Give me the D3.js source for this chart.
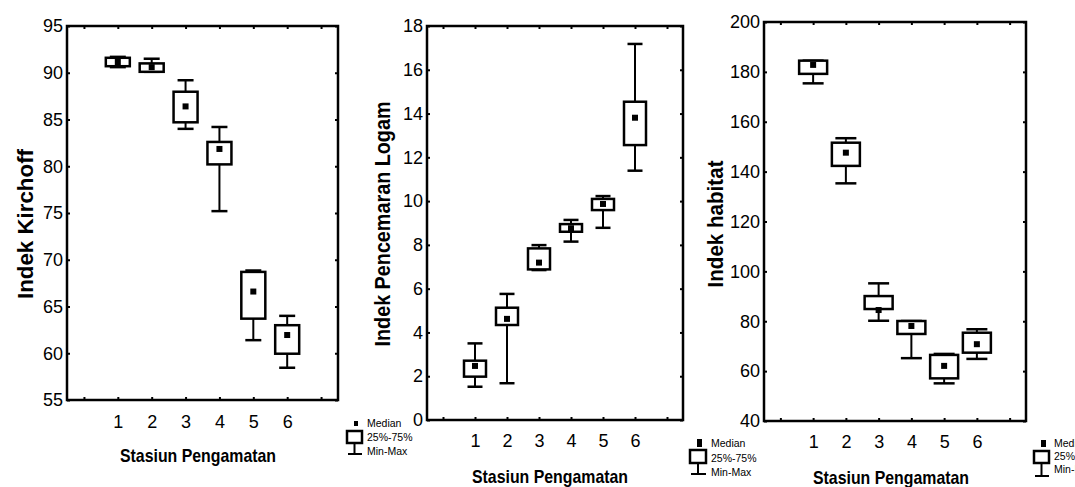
<!DOCTYPE html>
<html><head><meta charset="utf-8">
<script src="https://cdn.jsdelivr.net/npm/d3@7"></script>
<style>body{margin:0;background:#fff}svg{display:block}</style>
</head><body>
<svg id="c" width="1075" height="487"></svg>
<script>
// ---------- data ----------
const stations = [1, 2, 3, 4, 5, 6];
const xTickPositions = [0, 1, 2, 3, 4, 5, 6, 7];
const xTitle = "Stasiun Pengamatan";
const legendLabels = ["Median", "25%-75%", "Min-Max"];

// Indek Kirchoff
const kirMin = [90.6, 90.1, 84.0, 75.2, 61.4, 58.45];
const kirQ1  = [90.7, 90.1, 84.7, 80.2, 63.7, 59.95];
const kirMed = [91.15, 90.6, 86.4, 81.85, 66.6, 61.95];
const kirQ3  = [91.6, 91.0, 87.97, 82.6, 68.7, 63.0];
const kirMax = [91.7, 91.5, 89.2, 84.2, 68.85, 64.0];
const kirTicks = [55, 60, 65, 70, 75, 80, 85, 90, 95];

// Indek Pencemaran Logam
const logMin = [1.52, 1.68, 6.85, 8.15, 8.78, 11.39];
const logQ1  = [1.98, 4.34, 6.88, 8.6, 9.59, 12.56];
const logMed = [2.47, 4.62, 7.19, 8.76, 9.87, 13.81];
const logQ3  = [2.71, 5.13, 7.84, 8.95, 10.1, 14.54];
const logMax = [3.5, 5.76, 7.99, 9.14, 10.23, 17.18];
const logTicks = [0, 2, 4, 6, 8, 10, 12, 14, 16, 18];

// Indek habitat
const habMin = [175.4, 135.3, 80.2, 65.2, 55.1, 64.9];
const habQ1  = [179.2, 142.3, 84.9, 74.9, 57.1, 67.4];
const habMed = [182.8, 147.6, 84.5, 78.1, 62.1, 70.8];
const habQ3  = [184.5, 151.6, 90.1, 80.1, 66.5, 75.4];
const habMax = [184.5, 153.4, 95.2, 80.1, 66.9, 76.8];
const habTicks = [40, 60, 80, 100, 120, 140, 160, 180, 200];

// ---------- layout ----------
const panels = [
  {title: "Indek Kirchoff", titleLen: 150, titleX: 33, mn: kirMin, q1: kirQ1, md: kirMed, q3: kirQ3, mx: kirMax,
   ticks: kirTicks, dom: [55, 95], x0: 67, x1: 338, yT: 26, yB: 400, boxW: 24, capW: 16, xPad: 15, medW: 6,
   xtC: 198, xtB: 462,
   leg: {bx: 347, by: 431, bw: 15, bh: 12, cap: 454, sq: [354, 421, 4, 5], tx: 367, ty: [423, 437, 451]}},
  {title: "Indek Pencemaran Logam", titleLen: 245, titleX: 390, mn: logMin, q1: logQ1, md: logMed, q3: logQ3, mx: logMax,
   ticks: logTicks, dom: [0, 18], x0: 427, x1: 683, yT: 26, yB: 420, boxW: 22, capW: 15, xPad: 14, medW: 6,
   xtC: 550, xtB: 483,
   leg: {bx: 690, by: 450, bw: 16, bh: 13, cap: 474, sq: [697, 439, 5, 8], tx: 711, ty: [443, 458, 472]}},
  {title: "Indek habitat", titleLen: 127, titleX: 723, mn: habMin, q1: habQ1, md: habMed, q3: habQ3, mx: habMax,
   ticks: habTicks, dom: [40, 200], x0: 764, x1: 1026, yT: 22, yB: 421, boxW: 28, capW: 21, xPad: 14, medW: 6,
   xtC: 891, xtB: 484,
   leg: {bx: 1034, by: 451, bw: 15, bh: 12, cap: 476, sq: [1041, 440, 5, 7], tx: 1054, ty: [443, 456, 469]}}
];

const tickFont = '"Liberation Sans", Arial, sans-serif';
const titleFont = '"Liberation Sans Narrow", "Arial Narrow", "Liberation Sans", Arial, sans-serif';
const svg = d3.select("#c");

panels.forEach(p => {
  const g = svg.append("g");
  const x = d3.scaleLinear().domain([-0.5, 7.5]).range([p.x0, p.x1]);
  const y = d3.scaleLinear().domain(p.dom).range([p.yB, p.yT]);

  // axes (inward ticks)
  const axL = d3.axisLeft(y).tickValues(p.ticks).tickSizeInner(-3).tickSizeOuter(0).tickPadding(4);
  const axR = d3.axisRight(y).tickValues(p.ticks).tickSizeInner(-3).tickSizeOuter(0).tickFormat("");
  const axT = d3.axisTop(x).tickValues(xTickPositions).tickSizeInner(-3).tickSizeOuter(0).tickFormat("");
  const axB = d3.axisBottom(x).tickValues(xTickPositions).tickSizeInner(-3).tickSizeOuter(0)
    .tickPadding(p.xPad).tickFormat(d => stations.includes(d) ? d : "");

  const gl = g.append("g").attr("transform", `translate(${p.x0},0)`).call(axL);
  const gr = g.append("g").attr("transform", `translate(${p.x1},0)`).call(axR);
  const gt = g.append("g").attr("transform", `translate(0,${p.yT})`).call(axT);
  const gb = g.append("g").attr("transform", `translate(0,${p.yB})`).call(axB);
  [gl, gr, gt, gb].forEach(a => {
    a.select(".domain").remove();
    a.selectAll(".tick line").attr("stroke", "#000").attr("stroke-width", 2);
    a.selectAll("text").attr("fill", "#000").style("font-family", tickFont).style("font-size", "18px");
  });

  // frame
  g.append("rect").attr("x", p.x0).attr("y", p.yT).attr("width", p.x1 - p.x0).attr("height", p.yB - p.yT)
    .attr("fill", "none").attr("stroke", "#000").attr("stroke-width", 2.5);

  // boxes
  stations.forEach((s, i) => {
    const cx = x(s);
    const b = g.append("g");
    b.append("line").attr("x1", cx).attr("x2", cx).attr("y1", y(p.mn[i])).attr("y2", y(p.mx[i]))
      .attr("stroke", "#000").attr("stroke-width", 2);
    [p.mn[i], p.mx[i]].forEach(v => {
      b.append("line").attr("x1", cx - p.capW / 2).attr("x2", cx + p.capW / 2).attr("y1", y(v)).attr("y2", y(v))
        .attr("stroke", "#000").attr("stroke-width", 2.5);
    });
    b.append("rect").attr("x", cx - p.boxW / 2).attr("y", y(p.q3[i])).attr("width", p.boxW)
      .attr("height", Math.max(1, y(p.q1[i]) - y(p.q3[i])))
      .attr("fill", "#fff").attr("stroke", "#000").attr("stroke-width", 2.5);
    b.append("rect").attr("x", cx - p.medW / 2).attr("y", y(p.md[i]) - p.medW / 2)
      .attr("width", p.medW).attr("height", p.medW).attr("fill", "#000");
  });

  // y title
  g.append("text").attr("transform", `translate(${p.titleX},${224}) rotate(-90)`)
    .attr("text-anchor", "middle").attr("textLength", p.titleLen).attr("lengthAdjust", "spacingAndGlyphs")
    .style("font-family", titleFont).style("font-weight", "bold").style("font-size", "22px").text(p.title);

  // x title
  g.append("text").attr("x", p.xtC).attr("y", p.xtB).attr("text-anchor", "middle")
    .attr("textLength", 156).attr("lengthAdjust", "spacingAndGlyphs")
    .style("font-family", titleFont).style("font-weight", "bold").style("font-size", "19px").text(xTitle);

  // legend
  const L = p.leg;
  const lg = g.append("g");
  lg.append("rect").attr("x", L.sq[0]).attr("y", L.sq[1]).attr("width", L.sq[2]).attr("height", L.sq[3]).attr("fill", "#000");
  const mid = L.bx + L.bw / 2;
  lg.append("line").attr("x1", mid).attr("x2", mid).attr("y1", L.by + L.bh).attr("y2", L.cap).attr("stroke", "#000").attr("stroke-width", 2);
  lg.append("line").attr("x1", L.bx + 1).attr("x2", L.bx + L.bw).attr("y1", L.cap).attr("y2", L.cap).attr("stroke", "#000").attr("stroke-width", 2);
  lg.append("rect").attr("x", L.bx).attr("y", L.by).attr("width", L.bw).attr("height", L.bh)
    .attr("fill", "#fff").attr("stroke", "#000").attr("stroke-width", 2.5);
  legendLabels.forEach((t, k) => {
    lg.append("text").attr("x", L.tx).attr("y", L.ty[k]).attr("dy", "0.35em")
      .style("font-family", titleFont).style("font-size", "10.5px").text(t);
  });
});
</script>
</body></html>
